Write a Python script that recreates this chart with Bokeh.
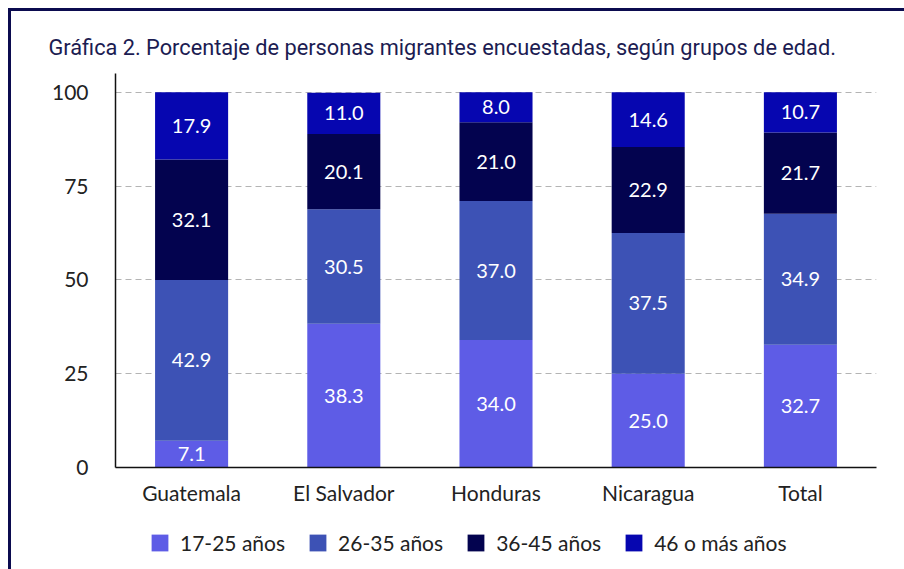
from bokeh.plotting import figure
from bokeh.layouts import column
from bokeh.models import ColumnDataSource, Legend, LegendItem, LabelSet, Range1d, FactorRange
from bokeh.embed import file_html
from bokeh.resources import INLINE
from bokeh.core.properties import value

countries = ["Guatemala", "El Salvador", "Honduras", "Nicaragua", "Total"]
groups = ["17-25 años", "26-35 años", "36-45 años", "46 o más años"]
g17_25 = [7.1, 38.3, 34.0, 25.0, 32.7]
g26_35 = [42.9, 30.5, 37.0, 37.5, 34.9]
g36_45 = [32.1, 20.1, 21.0, 22.9, 21.7]
g46 = [17.9, 11.0, 8.0, 14.6, 10.7]
y_ticks = [0, 25, 50, 75, 100]
colors = ["#5e5ce6", "#3d52b5", "#03034f", "#0606b0"]

keys = ["g1", "g2", "g3", "g4"]
series = [g17_25, g26_35, g36_45, g46]
data = {"country": countries}
for k, s in zip(keys, series):
    data[k] = s
source = ColumnDataSource(data)

p = figure(x_range=FactorRange(*countries), y_range=Range1d(0, 105),
           width=893, height=500, output_backend="svg", toolbar_location=None,
           title="Gráfica 2. Porcentaje de personas migrantes encuestadas, según grupos de edad.",
           min_border_left=104, min_border_right=28, min_border_top=62, min_border_bottom=44)

renderers = p.vbar_stack(keys, x="country", width=0.48, source=source, color=colors,
                         line_color=None)

cum = [0.0] * len(countries)
for k, s in zip(keys, series):
    mids = [c + v / 2 for c, v in zip(cum, s)]
    cum = [c + v for c, v in zip(cum, s)]
    lsrc = ColumnDataSource(dict(x=countries, y=mids, t=[f"{v:.1f}" for v in s]))
    p.add_layout(LabelSet(x="x", y="y", text="t", source=lsrc, text_color="white",
                          text_font=value("Lato"), text_font_size="20px",
                          text_align="center", text_baseline="middle"))

p.title.text_font = "Roboto"
p.title.text_font_size = "21.75px"
p.title.text_font_style = "normal"
p.title.text_color = "#1c1c52"
p.title.align = "left"
p.title.offset = -67
p.title.standoff = 28

p.xgrid.grid_line_color = None
p.ygrid.grid_line_color = "#b4b4b4"
p.ygrid.grid_line_dash = "6 4"
p.ygrid.ticker = [25, 50, 75, 100]
p.yaxis.ticker = y_ticks
p.outline_line_color = None

for ax in (p.xaxis, p.yaxis):
    ax.axis_line_color = "#111111"
    ax.axis_line_width = 1.5
    ax.major_tick_line_color = None
    ax.minor_tick_line_color = None
    ax.major_label_text_font = "Lato"
    ax.major_label_text_font_size = "21px"
    ax.major_label_text_color = "#222222"
p.yaxis.major_label_standoff = 21
p.xaxis.major_label_standoff = 6

# legend strip: same data, drawn outside its visible range, used only for legend swatches
lf = figure(x_range=FactorRange(*countries), y_range=Range1d(200, 201),
            width=893, height=58, output_backend="svg", toolbar_location=None,
            min_border=0, outline_line_color=None)
lf.axis.visible = False
lf.grid.visible = False
lrs = lf.vbar_stack(keys, x="country", width=0.48, source=source, color=colors,
                    line_color=None)
items = [LegendItem(label=g, renderers=[r]) for g, r in zip(groups, lrs)]
legend = Legend(items=items, orientation="horizontal", location=(34, 14),
                glyph_width=21, glyph_height=21, label_standoff=10, spacing=22,
                label_text_font="Lato", label_text_font_size="21px",
                label_text_color="#222222", border_line_color=None,
                background_fill_alpha=0, padding=0, margin=0)
lf.add_layout(legend, "center")

layout = column(p, lf, spacing=0,
                styles={"margin-left": "8px", "margin-top": "8px",
                        "border-top": "3px solid #0b0b4f", "border-left": "3px solid #0b0b4f"})

open("out.html", "w").write(file_html(layout, INLINE))
